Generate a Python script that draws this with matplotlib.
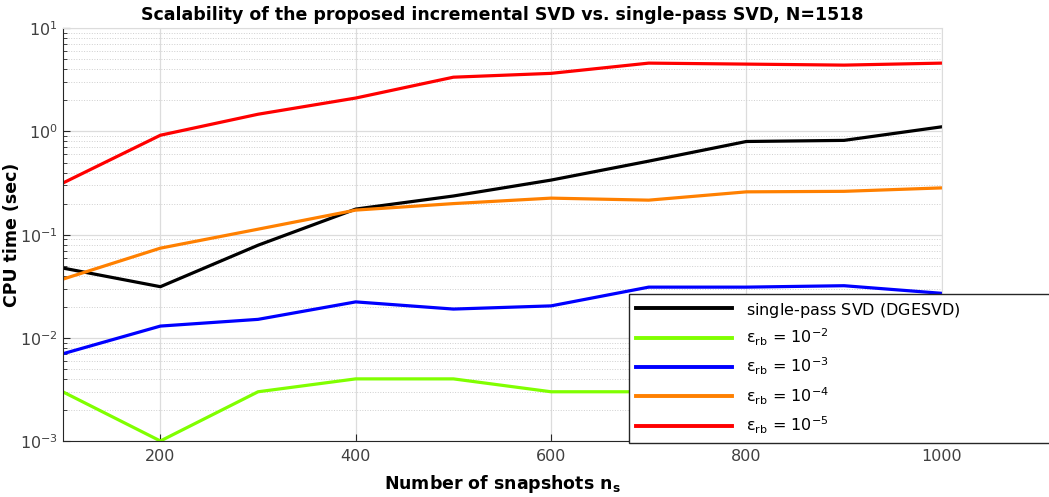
import numpy as np
import matplotlib.pyplot as plt
from matplotlib.ticker import LogLocator, NullFormatter

# snapshot counts
n_snap = [100, 200, 300, 400, 500, 600, 700, 800, 900, 1000]

# CPU times (sec)
t_full = [0.0475, 0.0313, 0.079, 0.177, 0.237, 0.338, 0.516, 0.80, 0.82, 1.11]
t_e2 = [0.0030, 0.0010, 0.0030, 0.0040, 0.0040, 0.0030, 0.0030, 0.0030, 0.0025, 0.0022]
t_e3 = [0.0070, 0.0130, 0.0151, 0.0223, 0.0190, 0.0204, 0.0310, 0.0310, 0.0320, 0.0270]
t_e4 = [0.0370, 0.0740, 0.113, 0.173, 0.200, 0.226, 0.216, 0.260, 0.263, 0.284]
t_e5 = [0.316, 0.92, 1.47, 2.11, 3.36, 3.66, 4.60, 4.50, 4.40, 4.60]

labels = [r'single-pass SVD (DGESVD)$^{\ }_{\ }$',
          r'ε$_{\mathregular{rb}}$ = 10$^{\mathregular{-2}}$',
          r'ε$_{\mathregular{rb}}$ = 10$^{\mathregular{-3}}$',
          r'ε$_{\mathregular{rb}}$ = 10$^{\mathregular{-4}}$',
          r'ε$_{\mathregular{rb}}$ = 10$^{\mathregular{-5}}$']
colors = ['#000000', '#80ff00', '#0000ff', '#ff8000', '#ff0000']

fig = plt.figure(figsize=(10.49, 4.97), dpi=100)
ax = fig.add_axes([0.0598, 0.1127, 0.8379, 0.8303])

for y, c, lab in zip([t_full, t_e2, t_e3, t_e4, t_e5], colors, labels):
    ax.plot(n_snap, y, color=c, lw=2.3, label=lab)

ax.set_yscale('log')
ax.set_xlim(100, 1000)
ax.set_ylim(1e-3, 10)
ax.set_xticks([200, 400, 600, 800, 1000])
ax.yaxis.set_major_locator(LogLocator(base=10, numticks=10))
ax.yaxis.set_minor_locator(LogLocator(base=10, subs=np.arange(2, 10), numticks=20))
ax.yaxis.set_minor_formatter(NullFormatter())

ax.grid(True, which='major', color='#dcdcdc', lw=0.9, ls='-')
ax.grid(True, which='minor', axis='y', color='#cfcfcf', lw=0.7, ls=':')
ax.set_axisbelow(True)

ax.tick_params(which='both', direction='in', colors='#262626', labelsize=11.5)
ax.tick_params(axis='both', which='both', labelcolor='#404040')
ax.tick_params(which='major', length=5)
ax.tick_params(which='minor', length=3)
ax.tick_params(axis='x', pad=6)
for s in ['left', 'bottom']:
    ax.spines[s].set_color('#262626')
for s in ['top', 'right']:
    ax.spines[s].set_color('#dcdcdc')

ax.set_title('Scalability of the proposed incremental SVD vs. single-pass SVD, N=1518',
             fontsize=12.5, fontweight='bold', pad=6)
ax.set_xlabel(r'Number of snapshots n$_{\mathregular{s}}$', fontsize=12.5, fontweight='bold', labelpad=6)
ax.set_ylabel('CPU time (sec)', fontsize=12.5, fontweight='bold', labelpad=-1)

leg = ax.legend(loc='upper left', bbox_to_anchor=(0.5996, 0.1167, 0.401, 0.292),
                bbox_transform=fig.transFigure, mode='expand', fontsize=11.5,
                handlelength=6, handletextpad=0.9, labelspacing=0.5,
                borderaxespad=0, borderpad=0.45, fancybox=False, framealpha=1,
                edgecolor='#262626')
leg.get_frame().set_linewidth(1.0)
for l in leg.get_lines():
    l.set_linewidth(2.8)

fig.savefig('out.png', dpi=100)
